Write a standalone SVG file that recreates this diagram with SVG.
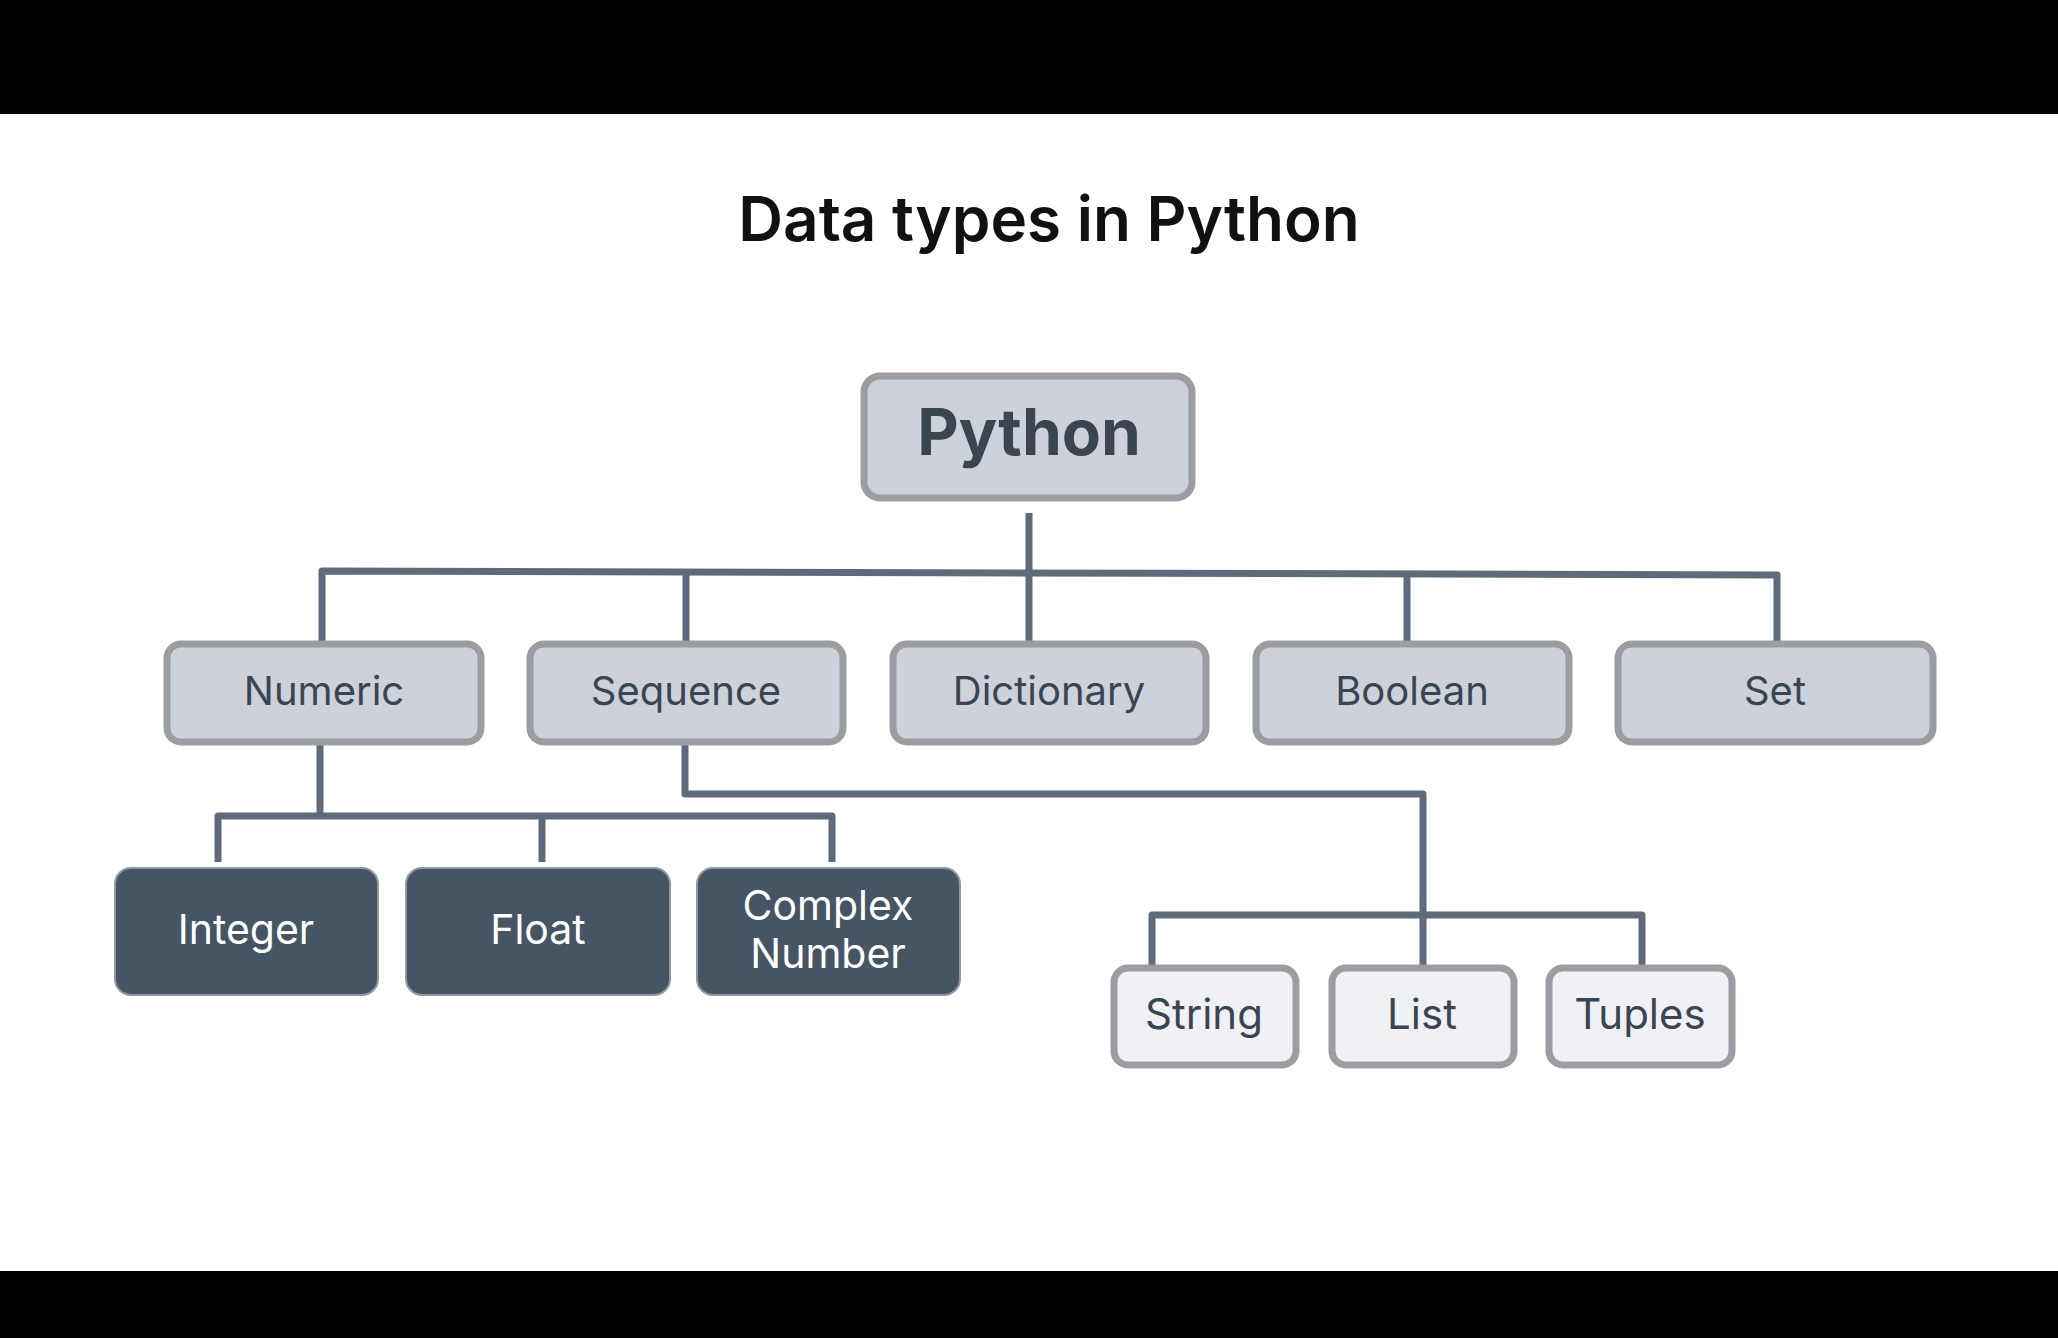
<svg xmlns="http://www.w3.org/2000/svg" width="2058" height="1338" viewBox="0 0 2058 1338">
<style>
.bar{fill:#000}
.mid rect{fill:#cdd1d9;stroke:#9b9da2;stroke-width:7}
.leaf rect{fill:#f0f1f5;stroke:#9b9da2;stroke-width:7}
.dark rect{fill:#465563;stroke:#8f979f;stroke-width:2}
text{font-family:Inter,"Liberation Sans",sans-serif;text-anchor:middle}
.lbl{font-size:40px;fill:#3a4550}
.llbl{font-size:42px;fill:#3a4550}
.dlbl{font-size:41px;fill:#ffffff}
.conn{fill:none;stroke:#5f6b7a;stroke-width:7;stroke-linejoin:round;stroke-linecap:butt}
</style>
<rect width="2058" height="1338" fill="#ffffff"/>
<rect class="bar" x="0" y="0" width="2058" height="114"/>
<rect class="bar" x="0" y="1271" width="2058" height="67"/>
<text x="1049" y="241" style="font-size:62px;font-weight:600;fill:#111111">Data types in Python</text>
<g id="connectors">
<path class="conn" d="M1029 513 V573"/>
<path class="conn" d="M322 642 V571 L1777 575 V642"/>
<path class="conn" d="M686 573 V642"/>
<path class="conn" d="M1029 573 V642"/>
<path class="conn" d="M1407 574 V642"/>
<path class="conn" d="M320 744 V816"/>
<path class="conn" d="M218 862 V816 H832 V862"/>
<path class="conn" d="M542 816 V862"/>
<path class="conn" d="M685 744 V794 H1423 V965"/>
<path class="conn" d="M1152 965 V915 H1642 V965"/>
</g>
<g id="node-python" class="mid">
<rect x="864" y="376" width="328" height="122" rx="16"/>
<text x="1029" y="455" style="font-size:64px;font-weight:700;fill:#3a4550">Python</text>
</g>
<g id="node-numeric" class="mid">
<rect x="167" y="644" width="314" height="98" rx="14"/>
<text class="lbl" x="324" y="705">Numeric</text>
</g>
<g id="node-sequence" class="mid">
<rect x="530" y="644" width="313" height="98" rx="14"/>
<text class="lbl" x="686" y="705">Sequence</text>
</g>
<g id="node-dictionary" class="mid">
<rect x="893" y="644" width="313" height="98" rx="14"/>
<text class="lbl" x="1049" y="705">Dictionary</text>
</g>
<g id="node-boolean" class="mid">
<rect x="1256" y="644" width="313" height="98" rx="14"/>
<text class="lbl" x="1412" y="705">Boolean</text>
</g>
<g id="node-set" class="mid">
<rect x="1618" y="644" width="315" height="98" rx="14"/>
<text class="lbl" x="1775" y="705">Set</text>
</g>
<g id="node-integer" class="dark">
<rect x="115" y="868" width="263" height="127" rx="16"/>
<text class="dlbl" x="246" y="944">Integer</text>
</g>
<g id="node-float" class="dark">
<rect x="406" y="868" width="264" height="127" rx="16"/>
<text class="dlbl" x="538" y="944">Float</text>
</g>
<g id="node-complex" class="dark">
<rect x="697" y="868" width="263" height="127" rx="16"/>
<text class="dlbl" x="828" y="920">Complex</text>
<text class="dlbl" x="828" y="968">Number</text>
</g>
<g id="node-string" class="leaf">
<rect x="1114" y="968" width="182" height="97" rx="14"/>
<text class="llbl" x="1204" y="1029">String</text>
</g>
<g id="node-list" class="leaf">
<rect x="1332" y="968" width="182" height="97" rx="14"/>
<text class="llbl" x="1422" y="1029">List</text>
</g>
<g id="node-tuples" class="leaf">
<rect x="1549" y="968" width="183" height="97" rx="14"/>
<text class="llbl" x="1640" y="1029">Tuples</text>
</g>
</svg>
